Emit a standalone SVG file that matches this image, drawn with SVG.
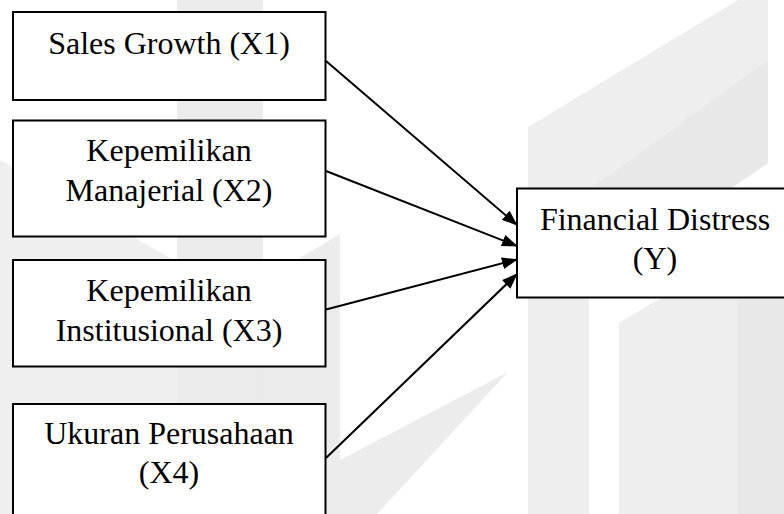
<svg xmlns="http://www.w3.org/2000/svg" width="784" height="514" viewBox="0 0 784 514">
  <style>
    .box { fill: #ffffff; stroke: #000000; stroke-width: 2; }
    .lbl { font-family: "Liberation Serif", "Times New Roman", serif; font-size: 32px; fill: #000000; text-anchor: middle; }
    .edge { stroke: #000000; stroke-width: 2; fill: none; marker-end: url(#arr); }
    .wm { stroke: none; }
  </style>
  <defs>
    <marker id="arr" viewBox="0 0 16 12" refX="15" refY="6" markerWidth="16" markerHeight="12" markerUnits="userSpaceOnUse" orient="auto" preserveAspectRatio="none">
      <path d="M0,0 L16,6 L0,12 z" fill="#000000"/>
    </marker>
  </defs>
  <rect width="784" height="514" fill="#ffffff"/>
  <g id="watermark">
    <polygon class="wm" fill="#efefef" points="0,160 177,262 177,514 0,514"/>
    <rect class="wm" fill="#ebebeb" x="177" y="0" width="86" height="514"/>
    <polygon class="wm" fill="#ececec" points="263,280 340,234 340,460 508,372 377,514 263,514"/>
    <polygon class="wm" fill="#eeeeee" points="528,127 738,0 768,0 768,163 589,285 589,514 528,514"/>
    <polygon class="wm" fill="#e8e8e8" points="589,190 768,60 768,163 589,285"/>
    <polygon class="wm" fill="#eeeeee" points="619,323 784,224 784,514 619,514"/>
    <rect class="wm" fill="#e8e8e8" x="737" y="290" width="47" height="224"/>
  </g>
  <g id="connectors">
    <line class="edge" x1="326" y1="61" x2="517" y2="225"/>
    <line class="edge" x1="326" y1="171" x2="517" y2="246"/>
    <line class="edge" x1="326" y1="309.5" x2="517" y2="259.5"/>
    <line class="edge" x1="326" y1="458" x2="517" y2="274"/>
  </g>
  <g id="x1">
    <rect class="box" x="13" y="12" width="312.5" height="88"/>
    <text class="lbl" x="169" y="53.5">Sales Growth (X1)</text>
  </g>
  <g id="x2">
    <rect class="box" x="13" y="120.5" width="312.5" height="116"/>
    <text class="lbl" x="169" y="161">Kepemilikan</text>
    <text class="lbl" x="169" y="200.5">Manajerial (X2)</text>
  </g>
  <g id="x3">
    <rect class="box" x="13" y="260" width="312.5" height="106.5"/>
    <text class="lbl" x="169" y="300.5">Kepemilikan</text>
    <text class="lbl" x="169" y="340.5">Institusional (X3)</text>
  </g>
  <g id="x4">
    <rect class="box" x="13" y="404" width="312.5" height="120"/>
    <text class="lbl" x="169" y="443.5">Ukuran Perusahaan</text>
    <text class="lbl" x="169" y="483">(X4)</text>
  </g>
  <g id="y">
    <rect class="box" x="517" y="188.5" width="276" height="109"/>
    <text class="lbl" x="655" y="229.5">Financial Distress</text>
    <text class="lbl" x="655" y="269">(Y)</text>
  </g>
</svg>
